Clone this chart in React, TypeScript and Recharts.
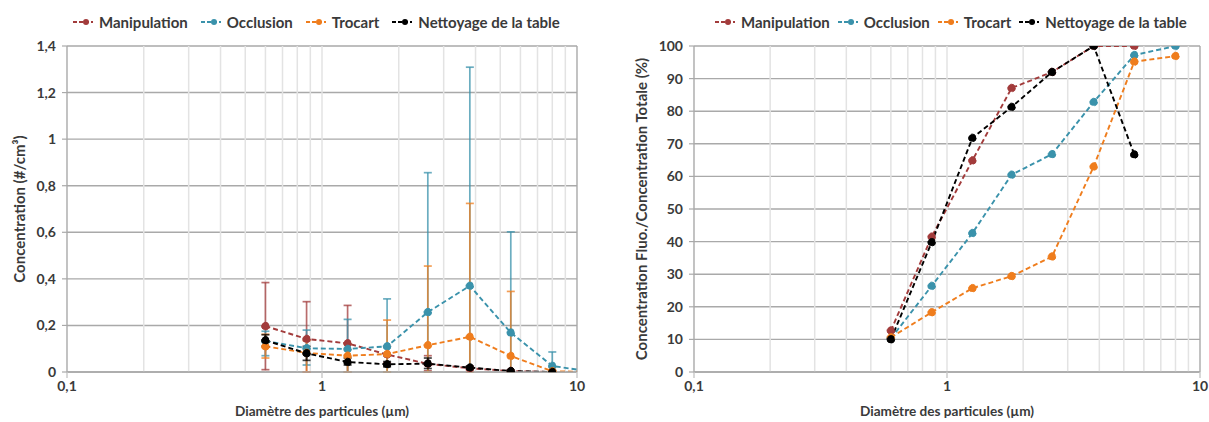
import React from 'react';
import { LineChart, Line, XAxis, YAxis, CartesianGrid, ReferenceLine, ErrorBar } from 'recharts';

const FONT = "Lato, 'Open Sans', sans-serif";
const TXT = '#3a3a3a';

// Particle diameters (µm)
const sizes = [0.6, 0.87, 1.26, 1.8, 2.6, 3.8, 5.5, 8.0, 11.6];

// Left chart: concentration (#/cm3)
const concManip = [0.197, 0.142, 0.123, 0.075, 0.035, 0.016, 0.004, 0.0, null];
const concManipHigh = [0.384, 0.302, 0.286, 0.11, 0.07, 0.025, 0.008, 0.002, null];
const concManipLow = [0.01, 0.0, 0.0, 0.04, 0.005, 0.007, 0.0, 0.0, null];

const concOccl = [0.133, 0.102, 0.099, 0.11, 0.257, 0.37, 0.169, 0.026, 0.0];
const concOcclHigh = [0.175, 0.18, 0.226, 0.314, 0.856, 1.309, 0.602, 0.086, null];
const concOcclLow = [0.07, 0.03, 0.0, 0.0, 0.0, 0.0, 0.0, 0.0, null];

const concTroc = [0.11, 0.082, 0.07, 0.077, 0.115, 0.151, 0.069, 0.003, 0.0];
const concTrocHigh = [0.162, 0.135, 0.12, 0.223, 0.455, 0.724, 0.346, 0.01, null];
const concTrocLow = [0.06, 0.0, 0.0, 0.0, 0.0, 0.0, 0.0, 0.0, null];

const concNett = [0.136, 0.08, 0.043, 0.033, 0.036, 0.019, 0.004, 0.0, null];
const concNettHigh = [0.16, 0.11, 0.06, 0.045, 0.06, 0.025, 0.008, 0.002, null];
const concNettLow = [0.11, 0.05, 0.03, 0.022, 0.015, 0.013, 0.0, 0.0, null];

// Right chart: fluorescent / total concentration (%)
const pctManip = [12.7, 41.5, 64.9, 87.1, 92, 100, 100, null];
const pctOccl = [10.3, 26.4, 42.6, 60.5, 66.8, 82.8, 97.2, 100];
const pctTroc = [10.6, 18.3, 25.7, 29.4, 35.4, 63, 95.2, 96.9];
const pctNett = [10, 39.8, 71.8, 81.3, 92, 100, 66.7, null];

const seriesNames = ['Manipulation', 'Occlusion', 'Trocart', 'Nettoyage de la table'];
const seriesKeys = ['manip', 'occl', 'troc', 'nett'];
const seriesColors = ['#a23b3b', '#3a92ab', '#ef7d1d', '#000000'];

const xTicks = [0.1, 1, 10];
const minorX = [0.2, 0.3, 0.4, 0.5, 0.6, 0.7, 0.8, 0.9, 1, 2, 3, 4, 5, 6, 7, 8, 9];
const leftYTicks = [0, 0.2, 0.4, 0.6, 0.8, 1, 1.2, 1.4];
const rightYTicks = [0, 10, 20, 30, 40, 50, 60, 70, 80, 90, 100];

const errPair = (v: number | null, hi: number | null, lo: number | null) =>
  v == null || hi == null || lo == null ? undefined : [Math.max(0, v - lo), Math.max(0, hi - v)];

const leftData = sizes.map((x, i) => ({
  x,
  manip: concManip[i],
  occl: concOccl[i],
  troc: concTroc[i],
  nett: concNett[i],
  manipErr: errPair(concManip[i], concManipHigh[i], concManipLow[i]),
  occlErr: errPair(concOccl[i], concOcclHigh[i], concOcclLow[i]),
  trocErr: errPair(concTroc[i], concTrocHigh[i], concTrocLow[i]),
  nettErr: errPair(concNett[i], concNettHigh[i], concNettLow[i]),
}));

const rightData = sizes.slice(0, 8).map((x, i) => ({
  x,
  manip: pctManip[i],
  occl: pctOccl[i],
  troc: pctTroc[i],
  nett: pctNett[i],
}));

const fmtX = (v: number) => String(v).replace('.', ',');
const fmtYLeft = (v: number) => (Number.isInteger(v) ? String(v) : v.toFixed(1).replace('.', ','));

const tickStyle = { fill: TXT, fontSize: 14, fontWeight: 700, fontFamily: FONT };

const yLabel = (text: string, x: number) => (props: any) => {
  const vb = props.viewBox || {};
  const cy = vb.y + vb.height / 2;
  return (
    <text
      x={x}
      y={cy}
      transform={`rotate(-90 ${x} ${cy})`}
      textAnchor="middle"
      dominantBaseline="central"
      fill={TXT}
      fontSize={15}
      fontWeight={700}
      fontFamily={FONT}
    >
      {text}
    </text>
  );
};

const xLabel = (text: string) => (props: any) => {
  const vb = props.viewBox || {};
  const cx = vb.x + vb.width / 2;
  return (
    <text
      x={cx}
      y={vb.y + 39}
      textAnchor="middle"
      dominantBaseline="central"
      fill={TXT}
      fontSize={13.6}
      fontWeight={700}
      fontFamily={FONT}
    >
      {text}
    </text>
  );
};

function LegendRow({ left, gap }: { left: number; gap: number }) {
  return (
    <div
      style={{
        position: 'absolute',
        left,
        top: 12,
        display: 'flex',
        alignItems: 'center',
        fontFamily: FONT,
        fontWeight: 700,
        fontSize: 15,
        color: TXT,
        whiteSpace: 'nowrap',
        lineHeight: '20px',
      }}
    >
      {seriesNames.map((n, i) => (
        <div key={n} style={{ display: 'flex', alignItems: 'center', marginRight: gap }}>
          <svg width={20} height={10} style={{ marginRight: 6 }}>
            <line x1={0} y1={5} x2={20} y2={5} stroke={seriesColors[i]} strokeWidth={2} strokeDasharray="4 2" />
            <circle cx={13} cy={5} r={3} fill={seriesColors[i]} />
          </svg>
          <span>{n}</span>
        </div>
      ))}
    </div>
  );
}

function Panel(props: {
  width: number;
  data: any[];
  yTicks: number[];
  yDomain: [number, number];
  yFmt: (v: number) => string;
  yAxisWidth: number;
  marginRight: number;
  yLabelText: string;
  yLabelX: number;
  withErrors: boolean;
}) {
  const { width, data, yTicks, yDomain, yFmt, yAxisWidth, marginRight, yLabelText, yLabelX, withErrors } = props;
  return (
    <LineChart width={width} height={422} data={data} margin={{ top: 46, right: marginRight, bottom: 0, left: 0 }}>
      <CartesianGrid vertical={false} stroke="#a9a9a9" strokeWidth={1.4} />
      {minorX.map((v) => (
        <ReferenceLine key={v} x={v} stroke="#e3e3e3" strokeWidth={1.5} />
      ))}
      <ReferenceLine x={10} stroke="#a9a9a9" strokeWidth={1.4} />
      <XAxis
        dataKey="x"
        type="number"
        scale="log"
        domain={[0.1, 10]}
        ticks={xTicks}
        allowDataOverflow
        tickFormatter={fmtX}
        height={50}
        tick={tickStyle}
        tickSize={6}
        tickMargin={3}
        stroke="#a9a9a9"
        axisLine={{ stroke: '#a9a9a9', strokeWidth: 1.4 }}
        tickLine={{ stroke: '#c8c8c8', strokeWidth: 1.4 }}
        label={{ content: xLabel('Diamètre des particules (µm)') } as any}
      />
      <YAxis
        type="number"
        domain={yDomain}
        ticks={yTicks}
        allowDataOverflow
        tickFormatter={yFmt}
        width={yAxisWidth}
        tick={tickStyle}
        tickSize={5}
        tickMargin={6}
        axisLine={{ stroke: '#a9a9a9', strokeWidth: 1.4 }}
        tickLine={{ stroke: '#a9a9a9', strokeWidth: 1.2 }}
        label={{ content: yLabel(yLabelText, yLabelX) } as any}
      />
      {seriesKeys.map((k, i) => (
        <Line
          key={k}
          dataKey={k}
          type="linear"
          stroke={seriesColors[i]}
          strokeWidth={1.9}
          strokeDasharray="5 3"
          dot={{ r: 3.8, fill: seriesColors[i], stroke: seriesColors[i], strokeWidth: 1 }}
          activeDot={false}
          isAnimationActive={false}
          connectNulls={false}
        >
          {withErrors ? (
            <ErrorBar
              dataKey={`${k}Err`}
              direction="y"
              width={4}
              stroke={seriesColors[i]}
              strokeOpacity={0.75}
              strokeWidth={1.7}
              isAnimationActive={false}
            />
          ) : null}
        </Line>
      ))}
    </LineChart>
  );
}

export default function App() {
  return (
    <div style={{ position: 'absolute', left: 0, top: 0, width: 1209, height: 422, background: '#fff' }}>
      <div style={{ position: 'absolute', left: 0, top: 0 }}>
        <Panel
          width={600}
          data={leftData}
          yTicks={leftYTicks}
          yDomain={[0, 1.4]}
          yFmt={fmtYLeft}
          yAxisWidth={67}
          marginRight={23}
          yLabelText="Concentration (#/cm³)"
          yLabelX={19}
          withErrors
        />
      </div>
      <div style={{ position: 'absolute', left: 600, top: 0 }}>
        <Panel
          width={609}
          data={rightData}
          yTicks={rightYTicks}
          yDomain={[0, 100]}
          yFmt={(v) => String(v)}
          yAxisWidth={94}
          marginRight={9}
          yLabelText="Concentration Fluo./Concentration Totale (%)"
          yLabelX={41}
          withErrors={false}
        />
      </div>
      <LegendRow left={73} gap={13} />
      <LegendRow left={715} gap={8} />
    </div>
  );
}
